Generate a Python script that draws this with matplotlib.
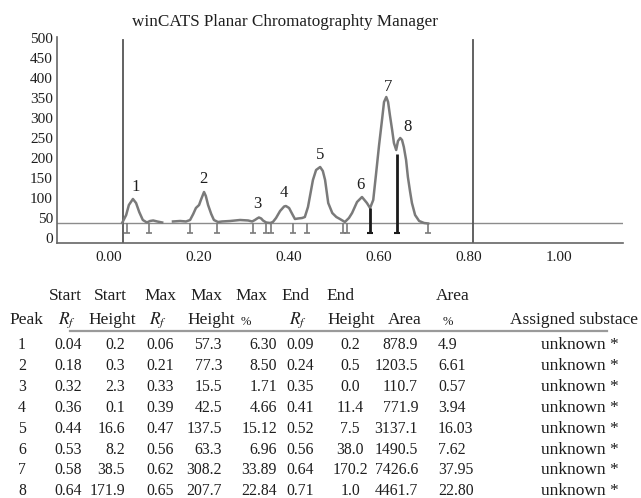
import matplotlib
matplotlib.use('Agg')
import matplotlib.pyplot as plt
import numpy as np

plt.rcParams['font.family'] = ['Liberation Serif', 'DejaVu Serif']
plt.rcParams['mathtext.fontset'] = 'stix'

# peak table as printed under the densitogram
peak_no = [1, 2, 3, 4, 5, 6, 7, 8]
start_rf = [0.04, 0.18, 0.32, 0.36, 0.44, 0.53, 0.58, 0.64]
start_height = [0.2, 0.3, 2.3, 0.1, 16.6, 8.2, 38.5, 171.9]
max_rf = [0.06, 0.21, 0.33, 0.39, 0.47, 0.56, 0.62, 0.65]
max_height = [57.3, 77.3, 15.5, 42.5, 137.5, 63.3, 308.2, 207.7]
max_pct = [6.30, 8.50, 1.71, 4.66, 15.12, 6.96, 33.89, 22.84]
end_rf = [0.09, 0.24, 0.35, 0.41, 0.52, 0.56, 0.64, 0.71]
end_height = [0.2, 0.5, 0.0, 11.4, 7.5, 38.0, 170.2, 1.0]
area = [878.9, 1203.5, 110.7, 771.9, 3137.1, 1490.5, 7426.6, 4461.7]
area_pct = ['4.9', '6.61', '0.57', '3.94', '16.03', '7.62', '37.95', '22.80']
substance = ['unknown *'] * 8

# densitogram trace (Rf, AU), nan = gap in the trace
trace_rf = [0.030, 0.039, 0.045, 0.054, 0.061, 0.068, 0.076, 0.085, 0.092,
            0.099, 0.108, 0.119, np.nan,
            0.143, 0.159, 0.172, 0.181, 0.188, 0.194, 0.201, 0.205, 0.212,
            0.216, 0.221, 0.228, 0.234, 0.243, 0.252, 0.270, 0.292, 0.310,
            0.319, 0.325, 0.330, 0.334, 0.339, 0.343, 0.350, 0.359, 0.365,
            0.372, 0.381, 0.390, 0.394, 0.401, 0.408, 0.414, 0.421, 0.430,
            0.436, 0.443, 0.454, 0.461, 0.470, 0.476, 0.481, 0.488, 0.497,
            0.506, 0.514, 0.525, 0.534, 0.541, 0.552, 0.563, 0.574, 0.581,
            0.588, 0.594, 0.601, 0.608, 0.612, 0.617, 0.621, 0.625, 0.630,
            0.634, 0.639, 0.643, 0.648, 0.652, 0.656, 0.661, 0.665, 0.670,
            0.674, 0.681, 0.690, 0.701, 0.710]
trace_au = [37.5, 57.5, 82.5, 97.5, 87.5, 65, 45, 38.8, 42.5,
            43.8, 41.3, 38.8, np.nan,
            41.3, 42.5, 41.3, 45, 60, 75, 82.5, 95, 115,
            105, 82.5, 60, 45, 40, 41.3, 42.5, 45, 43.8,
            41.3, 45, 48.8, 51.3, 48.8, 43.8, 38.8, 37.5, 40,
            50, 67.5, 78.8, 80, 75, 60, 47.5, 48.8, 50,
            52.5, 77.5, 145, 170, 177.5, 167.5, 145, 87.5, 62.5,
            52.5, 47.5, 40, 50, 62.5, 90, 102.5, 87.5, 75,
            95, 157.5, 232.5, 300, 340, 352.5, 340, 307.5, 270,
            237.5, 220, 242.5, 250, 245, 227.5, 195, 152.5, 115,
            87.5, 57.5, 42.5, 37.5, 36.3]

baseline = 37.5
track_limits = [0.033, 0.81]
x_ticks = [0.0, 0.2, 0.4, 0.6, 0.8, 1.0]
y_ticks = list(range(0, 501, 50))

ink = '#1e1e1e'
fig = plt.figure(figsize=(6.41, 4.98), dpi=100)

# ---- densitogram ----
ax = fig.add_axes([57 / 641, 1 - 243 / 498, 566 / 641, 208 / 498])
ax.set_xlim(-0.1147, 1.143)
ax.set_ylim(-12.5, 507.5)

ax.axhline(baseline, color='#8c8c8c', lw=1.0, zorder=1)
for r in track_limits:
    ax.axvline(r, ymax=0.975, color='#555555', lw=1.3, zorder=1)
ax.plot(trace_rf, trace_au, color='#7a7a7a', lw=1.8,
        solid_joinstyle='round', zorder=3)

foot = 12
for i in range(len(peak_no)):
    # small integration brackets below the baseline, drop lines where peaks touch
    if start_height[i] < 20:
        ax.vlines(start_rf[i], foot, baseline, color='#7a7a7a', lw=1.2)
        ax.plot(start_rf[i], foot, marker='_', ms=5, mew=1.2, color='#7a7a7a')
    else:
        ax.vlines(start_rf[i], foot, baseline + start_height[i],
                  color='#1a1a1a', lw=2.0, zorder=4)
        ax.plot(start_rf[i], foot, marker='_', ms=5, mew=1.5, color='#1a1a1a')
    if end_height[i] < 20:
        ax.vlines(end_rf[i], foot, baseline, color='#7a7a7a', lw=1.2)
        ax.plot(end_rf[i], foot, marker='_', ms=5, mew=1.2, color='#7a7a7a')

    dx = 6 if peak_no[i] == 8 else 0
    ax.annotate(str(peak_no[i]), (max_rf[i], baseline + max_height[i]),
                xytext=(dx, 13), textcoords='offset pixels',
                ha='center', va='center', fontsize=12, color=ink)

ax.set_xticks(x_ticks)
ax.set_xticklabels([f'{t:.2f}' for t in x_ticks])
ax.set_yticks(y_ticks)
ax.tick_params(length=0, labelsize=11, colors=ink)
ax.tick_params(axis='y', pad=3)
ax.tick_params(axis='x', pad=6)
for s in ['top', 'right']:
    ax.spines[s].set_visible(False)
for s in ['left', 'bottom']:
    ax.spines[s].set_color('#666666')
    ax.spines[s].set_linewidth(1.2)
ax.spines['left'].set_bounds(-12.5, 502.5)
ax.patch.set_alpha(0)

fig.text(285 / 641, 1 - 22 / 498, 'winCATS Planar Chromatographty Manager',
         ha='center', va='center', fontsize=12.3, color=ink)

# ---- peak table (laid out in pixel coordinates) ----
tab = fig.add_axes([0, 0, 1, 1], zorder=-1)
tab.set_xlim(0, 641)
tab.set_ylim(498, 0)
tab.axis('off')

fs_head = 12.5
fs_num = 11.3
rf = r'$R_f$'
head1 = [('Start', 65), ('Start', 110), ('Max', 160), ('Max', 206),
         ('Max', 251), ('End', 296), ('End', 341), ('Area', 453)]
head2 = [('Peak', 26), (rf, 67), ('Height', 112), (rf, 158), ('Height', 211),
         (rf, 298), ('Height', 351), ('Area', 405),
         ('Assigned substace', 574)]
for txt, x in head1:
    tab.text(x, 296, txt, ha='center', va='center', fontsize=fs_head, color=ink)
for txt, x in head2:
    tab.text(x, 320, txt, ha='center', va='center', fontsize=fs_head, color=ink)
for x in [246, 448]:
    tab.text(x, 322, '%', ha='center', va='center', fontsize=9, color=ink)
tab.plot([70, 607], [331, 331], color='#9a9a9a', lw=1.6)

columns = [
    ([str(n) for n in peak_no], 22, 'center'),
    ([f'{v:.2f}' for v in start_rf], 68, 'center'),
    ([f'{v:.1f}' for v in start_height], 125, 'right'),
    ([f'{v:.2f}' for v in max_rf], 160, 'center'),
    ([f'{v:.1f}' for v in max_height], 222, 'right'),
    ([f'{v:.2f}' for v in max_pct], 277, 'right'),
    ([f'{v:.2f}' for v in end_rf], 300, 'center'),
    ([f'{v:.1f}' for v in end_height], 350, 'center'),
    ([f'{v:.1f}' for v in area], 418, 'right'),
    (area_pct, 438, 'left'),
]
row_y = [345 + 20.9 * i for i in range(len(peak_no))]
for vals, x, ha in columns:
    for v, y in zip(vals, row_y):
        tab.text(x, y, v, ha=ha, va='center', fontsize=fs_num, color=ink)
for v, y in zip(substance, row_y):
    tab.text(580, y, v, ha='center', va='center', fontsize=fs_head, color=ink)

fig.savefig('out.png', dpi=100)
